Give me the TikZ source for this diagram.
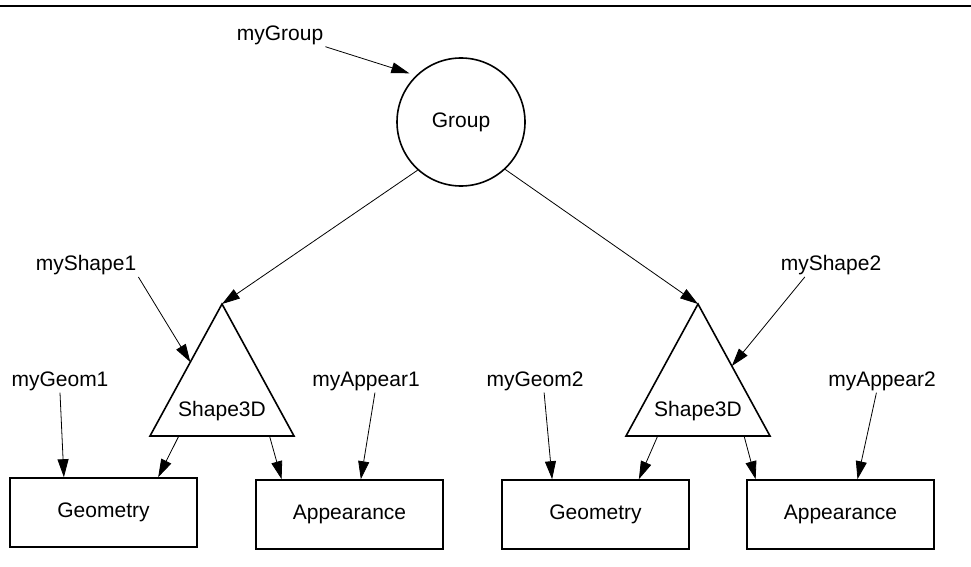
\documentclass[tikz,border=0pt]{standalone}
\usepackage{fontspec}
\setmainfont{Liberation Sans}
\usetikzlibrary{arrows.meta,calc}

\begin{document}
\begin{tikzpicture}[x=1pt,y=-1pt,>={Triangle[length=18pt,width=11pt]},
	every node/.style={font=\fontsize{21}{25}\selectfont},
	obj/.style={draw,line width=1.6pt},
	box/.style={obj,rectangle,minimum width=187pt,minimum height=69pt},
	lbl/.style={inner sep=2pt},
	ref/.style={->,line width=0.8pt}]
	\useasboundingbox (0,0) rectangle (971,567);
	\draw[line width=2.2pt] (0,6) -- (971,6);

	% scene graph
	\node[obj,circle,minimum size=128pt,inner sep=0pt]	(grp)	at (461,122)	{Group};
	\draw[obj] (222,304) coordinate (s1top) -- (294,436) coordinate (s1r) -- (150,436) coordinate (s1l) -- cycle;
	\node	(s1)	at (222,411)	{Shape3D};
	\draw[obj] (698,304) coordinate (s2top) -- (770,436) coordinate (s2r) -- (626,436) coordinate (s2l) -- cycle;
	\node	(s2)	at (698,411)	{Shape3D};
	\node[box]	(geo1)	at (103.5,512.5)	{Geometry};
	\node[box]	(app1)	at (349.5,514.5)	{Appearance};
	\node[box]	(geo2)	at (595.5,514.5)	{Geometry};
	\node[box]	(app2)	at (840.5,514.5)	{Appearance};

	% variable names
	\node[lbl]	(grpL)	at (280,35)	{myGroup};
	\node[lbl]	(shL1)	at (86,265)	{myShape1};
	\node[lbl]	(geoL1)	at (60,381)	{myGeom1};
	\node[lbl]	(appL1)	at (366,381)	{myAppear1};
	\node[lbl]	(shL2)	at (831,265)	{myShape2};
	\node[lbl]	(geoL2)	at (535,381)	{myGeom2};
	\node[lbl]	(appL2)	at (882,381)	{myAppear2};

	\path[ref]
	(grp.228)	edge	(s1top)
	(grp.313)	edge	(s2top)
	($(s1l)!0.2!(s1r)$)	edge	($(geo1.north west)!0.79!(geo1.north east)$)
	($(s1l)!0.83!(s1r)$)	edge	($(app1.north west)!0.14!(app1.north east)$)
	($(s2l)!0.22!(s2r)$)	edge	($(geo2.north west)!0.73!(geo2.north east)$)
	($(s2l)!0.82!(s2r)$)	edge	($(app2.north west)!0.05!(app2.north east)$)
	;

	\path[ref]
	(grpL.south east)	edge[shorten >=7pt]	(grp.134)
	(shL1.south east)	edge	($(s1top)!0.44!(s1l)$)
	(geoL1.south)	edge	($(geo1.north west)!0.29!(geo1.north east)$)
	($(appL1.south west)!0.58!(appL1.south east)$)	edge	($(app1.north west)!0.56!(app1.north east)$)
	($(shL2.south west)!0.25!(shL2.south east)$)	edge	($(s2top)!0.47!(s2r)$)
	($(geoL2.south west)!0.59!(geoL2.south east)$)	edge	($(geo2.north west)!0.27!(geo2.north east)$)
	($(appL2.south west)!0.45!(appL2.south east)$)	edge	($(app2.north west)!0.59!(app2.north east)$)
	;
\end{tikzpicture}
\end{document}
